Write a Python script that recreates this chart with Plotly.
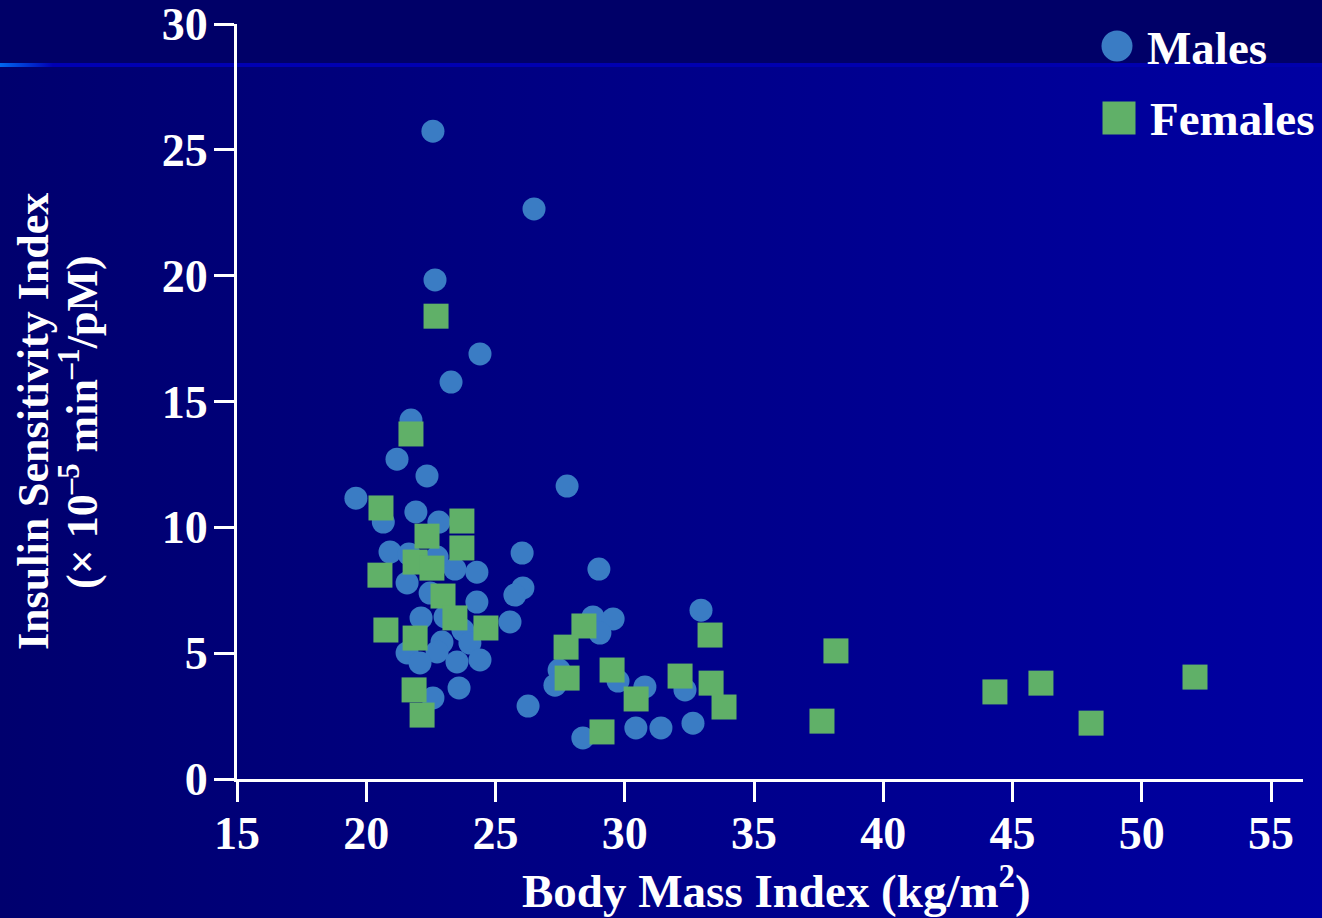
import base64
import plotly.graph_objects as go

# ---- data ----
male_bmi = [22.58, 26.49, 22.66, 24.40, 23.28, 21.73, 21.19, 22.35, 27.77, 19.60,
            21.92, 20.66, 22.81, 20.92, 21.65, 23.43, 24.28, 21.58, 22.47, 26.03,
            26.06, 25.75, 24.28, 25.56, 22.12, 23.05, 23.74, 22.93, 24.01, 22.74,
            21.58, 22.08, 23.51, 24.40, 22.58, 23.59, 26.26, 29.00, 32.95, 28.77,
            29.55, 29.04, 27.46, 27.30, 29.74, 30.78, 32.33, 28.38, 30.43, 31.40,
            32.64, 22.74]
male_si = [25.74, 22.65, 19.83, 16.89, 15.77, 14.26, 12.71, 12.04, 11.64, 11.16,
           10.61, 10.21, 10.21, 9.02, 8.94, 8.34, 8.22, 7.79, 7.39, 8.98,
           7.59, 7.31, 7.03, 6.24, 6.40, 6.44, 5.92, 5.44, 5.40, 5.05,
           5.01, 4.61, 4.65, 4.73, 3.22, 3.62, 2.90, 8.34, 6.71, 6.44,
           6.36, 5.80, 4.33, 3.73, 3.89, 3.66, 3.54, 1.63, 2.03, 2.03,
           2.22, 8.82]

female_bmi = [22.70, 21.73, 20.57, 23.70, 23.70, 22.35, 21.89, 22.54, 20.53, 22.97,
              23.43, 24.63, 20.76, 21.89, 21.85, 22.16, 28.42, 27.73, 27.77, 29.51,
              30.44, 29.12, 32.14, 33.30, 33.34, 33.84, 38.17, 37.63, 44.32, 46.10,
              48.04, 52.06]
female_si = [18.39, 13.71, 10.77, 10.25, 9.18, 9.65, 8.62, 8.38, 8.10, 7.27,
             6.40, 6.00, 5.92, 5.60, 3.54, 2.54, 6.08, 5.24, 4.01, 4.33,
             3.18, 1.87, 4.09, 5.72, 3.81, 2.86, 5.09, 2.30, 3.46, 3.81,
             2.22, 4.05]

x_ticks = [15, 20, 25, 30, 35, 40, 45, 50, 55]
y_ticks = [0, 5, 10, 15, 20, 25, 30]
series_names = ["Males", "Females"]

# ---- layout geometry ----
W, H = 1322, 918
ML, MR, MT, MB = 237, 19, 24, 139
PW, PH = W - ML - MR, H - MT - MB

def px(xp):
    return (xp - ML) / PW

def py(yp):
    return (H - MB - yp) / PH

MALE_C = "#3A7CC4"
FEMALE_C = "#60B068"
FONT = "Liberation Serif"

fig = go.Figure()
fig.add_trace(go.Scatter(x=male_bmi, y=male_si, mode="markers", name=series_names[0],
                         marker=dict(symbol="circle", size=23, color=MALE_C,
                                     line=dict(width=0)),
                         showlegend=False, cliponaxis=False))
fig.add_trace(go.Scatter(x=female_bmi, y=female_si, mode="markers", name=series_names[1],
                         marker=dict(symbol="square", size=25, color=FEMALE_C,
                                     line=dict(width=0)),
                         showlegend=False, cliponaxis=False))

# background gradient as inline SVG
svg = f"""<svg xmlns='http://www.w3.org/2000/svg' width='{W}' height='{H}' viewBox='0 0 {W} {H}' preserveAspectRatio='none'>
<defs>
<linearGradient id='g' x1='0' x2='1' y1='0' y2='0'>
<stop offset='0' stop-color='#00006E'/><stop offset='1' stop-color='#0000A2'/></linearGradient>
<linearGradient id='l' x1='0' x2='1' y1='0' y2='0'>
<stop offset='0' stop-color='#0068F0'/><stop offset='0.04' stop-color='#0000B4'/><stop offset='1' stop-color='#0000AC'/></linearGradient>
</defs>
<rect x='0' y='0' width='{W}' height='{H}' fill='url(#g)'/>
<rect x='0' y='0' width='{W}' height='64' fill='#000068'/>
<rect x='0' y='63' width='{W}' height='4' fill='url(#l)'/>
</svg>"""
src = "data:image/svg+xml;base64," + base64.b64encode(svg.encode()).decode()
fig.add_layout_image(dict(source=src, xref="paper", yref="paper",
                          x=px(0), y=py(0), sizex=W / PW, sizey=H / PH,
                          xanchor="left", yanchor="top", sizing="stretch",
                          layer="below"))

axis_font = dict(family=FONT, size=46, color="white", weight="bold")

fig.update_layout(
    width=W, height=H,
    margin=dict(l=ML, r=MR, t=MT, b=MB, pad=0, autoexpand=False),
    paper_bgcolor="#000080",
    plot_bgcolor="rgba(0,0,0,0)",
    showlegend=False,
    xaxis=dict(range=[15, 15 + PW / 25.85], tickvals=x_ticks,
               showgrid=False, zeroline=False, automargin=False,
               showline=True, linecolor="white", linewidth=3,
               ticks="outside", ticklen=20, tickwidth=3, tickcolor="white",
               tickfont=axis_font, ticklabelstandoff=-8,
               ticklabeloverflow="allow"),
    yaxis=dict(range=[0, 30], tickvals=y_ticks,
               showgrid=False, zeroline=False, automargin=False,
               showline=True, linecolor="white", linewidth=3,
               ticks="outside", ticklen=20, tickwidth=3, tickcolor="white",
               tickfont=axis_font, ticklabelstandoff=-3,
               ticklabeloverflow="allow"),
)

# x-axis title
fig.add_annotation(text="Body Mass Index (kg/m<sup>2</sup>)", xref="paper", yref="paper",
                   x=px(776), y=py(887), showarrow=False,
                   xanchor="center", yanchor="middle",
                   font=dict(family=FONT, size=47, color="white", weight="bold"))

# y-axis title as two rotated lines
title_font = dict(family=FONT, size=44, color="white", weight="bold")
fig.add_annotation(text="Insulin Sensitivity Index", xref="paper", yref="paper",
                   x=px(34), y=py(422), textangle=-90, showarrow=False,
                   xanchor="center", yanchor="middle", font=title_font)
fig.add_annotation(text="(× 10<sup>–5</sup> min<sup>–1</sup>/pM)", xref="paper", yref="paper",
                   x=px(80), y=py(422), textangle=-90, showarrow=False,
                   xanchor="center", yanchor="middle", font=title_font)

# manual legend (large symbols as in the reference)
fig.add_shape(type="circle", xref="paper", yref="paper",
              x0=px(1101.5), x1=px(1132.5), y0=py(61.5), y1=py(30.5),
              fillcolor=MALE_C, line=dict(width=0))
fig.add_shape(type="rect", xref="paper", yref="paper",
              x0=px(1102.5), x1=px(1135.5), y0=py(134.5), y1=py(101.5),
              fillcolor=FEMALE_C, line=dict(width=0))
leg_font = dict(family=FONT, size=47, color="white", weight="bold")
fig.add_annotation(text=series_names[0], xref="paper", yref="paper",
                   x=px(1145), y=py(48), xanchor="left", yanchor="middle",
                   showarrow=False, font=leg_font)
fig.add_annotation(text=series_names[1], xref="paper", yref="paper",
                   x=px(1148), y=py(119), xanchor="left", yanchor="middle",
                   showarrow=False, font=leg_font)

fig.write_html("out.html")
